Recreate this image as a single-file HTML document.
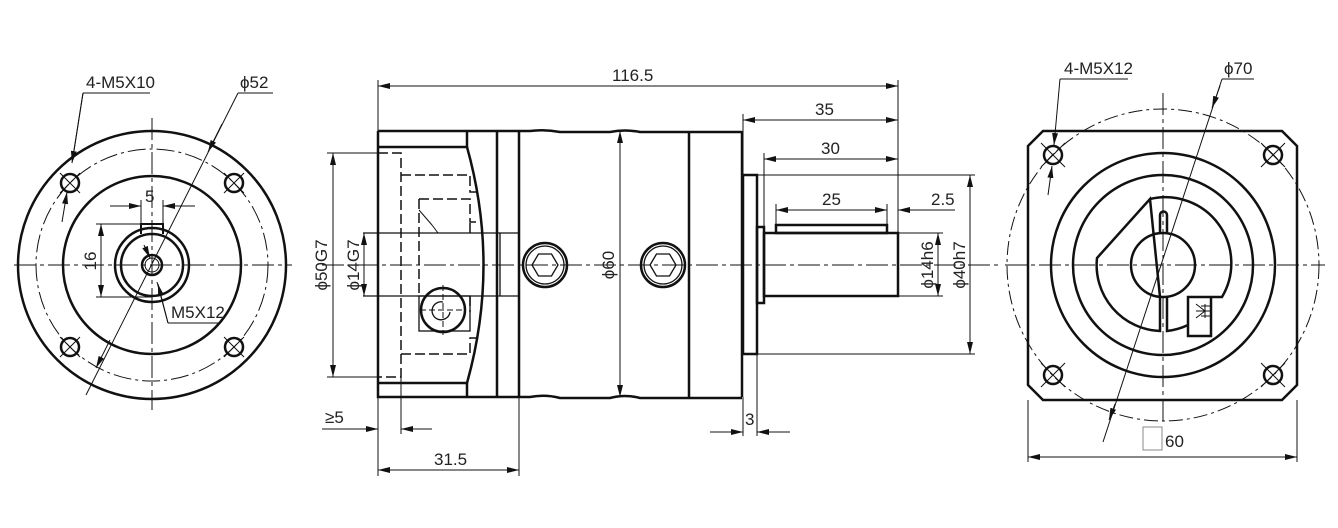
<!DOCTYPE html>
<html><head><meta charset="utf-8"><style>
html,body{margin:0;padding:0;background:#fff;}
svg{display:block;}
text{font-family:"Liberation Sans Narrow","Liberation Sans",sans-serif;font-size:17px;fill:#222;}
</style></head><body>
<svg width="1338" height="528" viewBox="0 0 1338 528" xmlns="http://www.w3.org/2000/svg">
<defs>
<marker id="a" viewBox="0 0 12 6" refX="12" refY="3" markerWidth="12" markerHeight="6" orient="auto-start-reverse" markerUnits="userSpaceOnUse"><path d="M0,0 L12,3 L0,6z" fill="#111"/></marker>
</defs>
<g fill="none" stroke="#111">
<!-- LEFT VIEW -->
<g stroke-width="2.5">
<circle cx="152" cy="265" r="134"/>
<circle cx="152" cy="265" r="89"/>
<circle cx="152" cy="265" r="37"/>
<circle cx="152" cy="265" r="31"/>
<circle cx="152" cy="265" r="10"/>
<circle cx="70" cy="183" r="9"/><circle cx="234" cy="183" r="9"/>
<circle cx="70" cy="347" r="9"/><circle cx="234" cy="347" r="9"/>
</g>
<circle cx="152" cy="265" r="7" stroke-width="1"/>
<path d="M141,234 V224 H163 V234" stroke-width="2"/>
<g stroke-width="1">
<circle cx="152" cy="265" r="116" stroke-dasharray="18,4,3,4"/>
<path d="M14,265 H292 M152,118 V410" stroke-dasharray="22,4,4,4"/>
<path d="M60,173 L80,193 M80,173 L60,193 M224,173 L244,193 M244,173 L224,193 M60,337 L80,357 M80,337 L60,357 M224,337 L244,357 M244,337 L224,357"/>
<path d="M110,206 H141 M163,206 H195" />
<path d="M126,206 H141" marker-end="url(#a)"/><path d="M178,206 H163" marker-end="url(#a)"/>
<path d="M141,224 V200 M163,224 V200"/>
<path d="M96,224 H141 M96,297 H152"/>
<path d="M101,224 V297" marker-start="url(#a)" marker-end="url(#a)"/>
<path d="M83,93 H150 M83,93 L73,157" /><path d="M83,93 L72,163" marker-end="url(#a)"/>
<path d="M62,222 L67,192" marker-end="url(#a)"/>
<path d="M238,93 H273 M238,93 L86,395"/>
<path d="M222,124 L208,152" marker-end="url(#a)"/>
<path d="M110,340 L96,368" marker-end="url(#a)"/>
<path d="M168,323 H218 M168,323 L157,282" /><path d="M168,323 L158,284" marker-end="url(#a)"/>
<path d="M144,245 L150,258" marker-end="url(#a)"/>
</g>

<!-- MIDDLE VIEW -->
<g stroke-width="2.5">
<path d="M378,131 H519 M378,131 V397 H519"/>
<path d="M378,147 H467 V131 M378,383 H467 V397"/>
<path d="M467,147 Q500,265 467,383"/>
<path d="M497,131 V397 M519,131 V397 M689,131 V397 M742,131 V397"/>
<path d="M519,131 H530 Q545,129 560,132 H610 Q625,129 640,132 H689 H742"/>
<path d="M519,397 H530 Q545,394 560,398 H610 Q625,394 640,398 H689 H742"/>
<rect x="743" y="175" width="14" height="179"/>
<rect x="757" y="227" width="7" height="76"/>
<rect x="764" y="233" width="134" height="63"/>
<rect x="776" y="225" width="111" height="8"/>
<circle cx="545" cy="265" r="22"/><circle cx="663" cy="265" r="22"/>
<circle cx="443" cy="310" r="22"/>
</g>
<g stroke-width="1.3">
<circle cx="545" cy="265" r="19"/><circle cx="663" cy="265" r="19"/>
<path d="M532,265 L538.5,254 H551.5 L558,265 L551.5,276 H538.5Z"/>
<path d="M650,265 L656.5,254 H669.5 L676,265 L669.5,276 H656.5Z"/>
<path d="M500,233 H519 M500,296 H519 M500,233 V296"/>
<path d="M363,233 H500 M363,296 H500"/>
<path d="M443,302 A9,9 0 1,0 450,312" />
<rect x="419" y="296" width="51" height="35"/>
</g>
<g stroke-width="1.5" stroke-dasharray="10,4">
<path d="M378,153 H401 V377 H378"/>
<path d="M401,175 H470 V192 H478 M401,354 H470 V338 H478"/>
<path d="M419,199 H470 V222 H478 M419,199 V296"/>
<path d="M470,233 V222 M470,296 V312"/>
</g>
<path d="M419,210 L432,225 M432,225 L438,233" stroke-width="1"/>
<g stroke-width="1">
<path d="M322,265 H1000" stroke-dasharray="22,4,4,4"/>
<path d="M443,285 V335 M420,310 H466" stroke-dasharray="6,3"/>
<path d="M378,80 V131 M898,80 V233"/>
<path d="M378,86 H898" marker-start="url(#a)" marker-end="url(#a)"/>
<path d="M743,114 V175"/>
<path d="M743,120 H898" marker-start="url(#a)" marker-end="url(#a)"/>
<path d="M764,153 V233"/>
<path d="M764,159 H898" marker-start="url(#a)" marker-end="url(#a)"/>
<path d="M776,204 V225 M887,204 V225"/>
<path d="M776,210 H887" marker-start="url(#a)" marker-end="url(#a)"/>
<path d="M935,210 H955"/><path d="M935,210 H898" marker-end="url(#a)"/>
<path d="M898,233 H943 M898,296 H943"/>
<path d="M938,233 V296" marker-start="url(#a)" marker-end="url(#a)"/>
<path d="M757,175 H975 M757,354 H975"/>
<path d="M970,175 V354" marker-start="url(#a)" marker-end="url(#a)"/>
<path d="M743,397 V436 M757,354 V436"/>
<path d="M710,432 H743" marker-end="url(#a)"/><path d="M790,432 H757" marker-end="url(#a)"/>
<path d="M378,397 V476 M401,377 V434 M519,397 V476"/>
<path d="M322,429 H378" marker-end="url(#a)"/><path d="M432,429 H401" marker-end="url(#a)"/>
<path d="M378,470 H519" marker-start="url(#a)" marker-end="url(#a)"/>
<path d="M327,153 H378 M327,377 H378"/>
<path d="M333,153 V377" marker-start="url(#a)" marker-end="url(#a)"/>
<path d="M364,233 V296" marker-start="url(#a)" marker-end="url(#a)"/>
<path d="M620,131 V397" marker-start="url(#a)" marker-end="url(#a)"/>
</g>

<!-- RIGHT VIEW -->
<g stroke-width="2.5">
<path d="M1043,131 H1282 L1297,146 V385 L1282,400 H1043 L1028,385 V146Z"/>
<circle cx="1163" cy="265" r="112"/>
<circle cx="1163" cy="265" r="90"/>
<circle cx="1163" cy="265" r="32"/>
<circle cx="1053" cy="155" r="9"/><circle cx="1273" cy="155" r="9"/>
<circle cx="1053" cy="375" r="9"/><circle cx="1273" cy="375" r="9"/>
<path d="M1150,199 A66,66 0 0 1 1222,297 H1188 V336 H1211 V297 M1188,325 A66,66 0 0 1 1167,331 V297 M1160,297 V331 A66,66 0 0 1 1097,258 L1150,199Z"/>
<path d="M1160,232 V215 A3.5,3.5 0 0 1 1167,215 V232"/>
</g>
<g stroke-width="1">
<circle cx="1163" cy="265" r="156" stroke-dasharray="14,4,3,4"/>
<path d="M1005,265 H1325 M1163,93 V425" stroke-dasharray="22,4,4,4"/>
<path d="M1041,143 L1065,167 M1065,143 L1041,167 M1261,143 L1285,167 M1285,143 L1261,167 M1041,363 L1065,387 M1065,363 L1041,387 M1261,363 L1285,387 M1285,363 L1261,387"/>
<path d="M1196,304 L1205,311 L1196,318 M1205,304 V318 M1196,311 H1211 M1201,306 H1211 M1201,316 H1211"/>
<path d="M1060,79 H1128"/><path d="M1060,79 L1054,145" marker-end="url(#a)"/>
<path d="M1048,195 L1052,166" marker-end="url(#a)"/>
<path d="M1222,79 H1254 M1222,79 L1103,442"/>
<path d="M1220,86 L1212,108" marker-end="url(#a)"/>
<path d="M1115,404 L1109,420" marker-end="url(#a)"/>
<path d="M1028,400 V462 M1297,400 V462"/>
<path d="M1028,457 H1297" marker-start="url(#a)" marker-end="url(#a)"/>
<rect x="1143" y="427" width="19" height="23" stroke="#888"/>
</g>
</g>
<!-- TEXT -->
<text x="86" y="88">4-M5X10</text>
<text x="240" y="88">ϕ52</text>
<text x="145" y="202">5</text>
<text x="171" y="318">M5X12</text>
<text transform="translate(96,261) rotate(-90)" text-anchor="middle">16</text>
<text x="612" y="81">116.5</text>
<text x="815" y="115">35</text>
<text x="821" y="154">30</text>
<text x="822" y="205">25</text>
<text x="931" y="205">2.5</text>
<text transform="translate(933,265) rotate(-90)" text-anchor="middle">ϕ14h6</text>
<text transform="translate(965,265) rotate(-90)" text-anchor="middle">ϕ40h7</text>
<text x="745" y="425">3</text>
<text x="325" y="423">≥5</text>
<text x="434" y="465">31.5</text>
<text transform="translate(327,265) rotate(-90)" text-anchor="middle">ϕ50G7</text>
<text transform="translate(359,265) rotate(-90)" text-anchor="middle">ϕ14G7</text>
<text transform="translate(614,265) rotate(-90)" text-anchor="middle">ϕ60</text>
<text x="1064" y="74">4-M5X12</text>
<text x="1224" y="74">ϕ70</text>
<text x="1165" y="447">60</text>
</svg>
</body></html>
